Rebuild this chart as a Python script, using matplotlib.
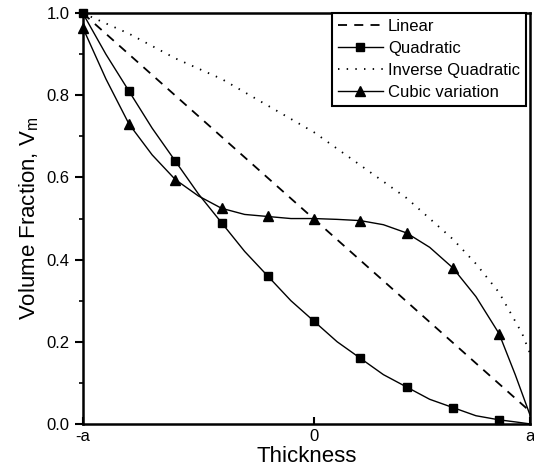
import matplotlib
matplotlib.use("Agg")
import matplotlib.pyplot as plt
from matplotlib.ticker import MultipleLocator

plt.rcParams['font.family'] = ['Liberation Sans', 'DejaVu Sans']

# Thickness in units of a (axis runs from -a to the cropped right edge)
x_end = 0.935

# Linear
lin_x = [-1.0, x_end]
lin_y = [1.0, 0.03]

# Quadratic (curve and markers)
quad_x = [-1.0, -0.9, -0.8, -0.7, -0.6, -0.5, -0.4, -0.3, -0.2, -0.1, 0.0,
          0.1, 0.2, 0.3, 0.4, 0.5, 0.6, 0.7, 0.8, 0.87, x_end]
quad_y = [1.0, 0.90, 0.81, 0.72, 0.64, 0.56, 0.49, 0.42, 0.36, 0.30, 0.25,
          0.20, 0.16, 0.12, 0.09, 0.06, 0.04, 0.02, 0.01, 0.005, 0.0]
quad_mx = [-1.0, -0.8, -0.6, -0.4, -0.2, 0.0, 0.2, 0.4, 0.6, 0.8]
quad_my = [1.0, 0.81, 0.64, 0.49, 0.36, 0.25, 0.16, 0.09, 0.04, 0.01]

# Inverse quadratic
inv_x = [-1.0, -0.8, -0.6, -0.4, -0.2, 0.0, 0.2, 0.4, 0.6, 0.7, 0.8, 0.85, 0.9, x_end]
inv_y = [1.0, 0.95, 0.89, 0.84, 0.775, 0.71, 0.63, 0.55, 0.45, 0.39, 0.32, 0.27, 0.22, 0.17]

# Cubic variation (curve and markers)
cub_x = [-1.0, -0.9, -0.8, -0.7, -0.6, -0.5, -0.4, -0.3, -0.2, -0.1, 0.0,
         0.1, 0.2, 0.3, 0.4, 0.5, 0.6, 0.7, 0.8, 0.87, x_end]
cub_y = [0.965, 0.84, 0.73, 0.655, 0.595, 0.555, 0.525, 0.51, 0.505, 0.50, 0.50,
         0.498, 0.495, 0.485, 0.465, 0.43, 0.38, 0.31, 0.22, 0.12, 0.02]
cub_mx = [-1.0, -0.8, -0.6, -0.4, -0.2, 0.0, 0.2, 0.4, 0.6, 0.8]
cub_my = [0.965, 0.73, 0.595, 0.525, 0.505, 0.50, 0.495, 0.465, 0.38, 0.22]

fig = plt.figure(figsize=(5.34, 4.7), dpi=100)
ax = fig.add_axes([0.155, 0.098, 0.838, 0.874])

ax.plot(lin_x, lin_y, color='black', linewidth=1.3, dashes=(5, 4))
ax.plot(inv_x, inv_y, color='black', linewidth=1.3, dashes=(0.8, 4))
ax.plot(quad_x, quad_y, color='black', linewidth=1.0)
ax.plot(quad_mx, quad_my, 's', color='black', markersize=6, clip_on=False)
ax.plot(cub_x, cub_y, color='black', linewidth=1.0)
ax.plot(cub_mx, cub_my, '^', color='black', markersize=7, clip_on=False)

# legend proxies
h1, = ax.plot([], [], color='black', linewidth=1.3, dashes=(5, 4), label='Linear')
h2, = ax.plot([], [], color='black', linewidth=1.0, marker='s', markersize=6, label='Quadratic')
h3, = ax.plot([], [], color='black', linewidth=1.3, dashes=(0.8, 4), label='Inverse Quadratic')
h4, = ax.plot([], [], color='black', linewidth=1.0, marker='^', markersize=7, label='Cubic variation')
leg = ax.legend(handles=[h1, h2, h3, h4], loc='upper right', fontsize=12,
                frameon=True, fancybox=False, edgecolor='black', framealpha=1,
                borderpad=0.35, labelspacing=0.42, handlelength=2.7,
                handletextpad=0.3, borderaxespad=0.0,
                bbox_to_anchor=(0.99, 1.0))
leg.get_frame().set_linewidth(1.5)

ax.set_xlim(-1.0, x_end)
ax.set_ylim(0, 1.0)
ax.set_xticks([-1.0, 0.0, x_end])
ax.set_xticklabels(['-a', '0', 'a'])
ax.yaxis.set_major_locator(MultipleLocator(0.2))
ax.yaxis.set_minor_locator(MultipleLocator(0.1))
ax.tick_params(axis='y', which='major', direction='out', length=6, width=1.5, labelsize=12)
ax.tick_params(axis='y', which='minor', direction='out', length=3, width=1.2)
ax.tick_params(axis='x', which='major', direction='in', length=5, width=1.5, labelsize=12, pad=4)
for s in ax.spines.values():
    s.set_linewidth(1.8)

ax.set_xlabel('Thickness', fontsize=16, labelpad=1)
ax.set_ylabel('Volume Fraction, V$_\\mathregular{m}$', fontsize=16, labelpad=4)

fig.savefig('out.png', dpi=100)
